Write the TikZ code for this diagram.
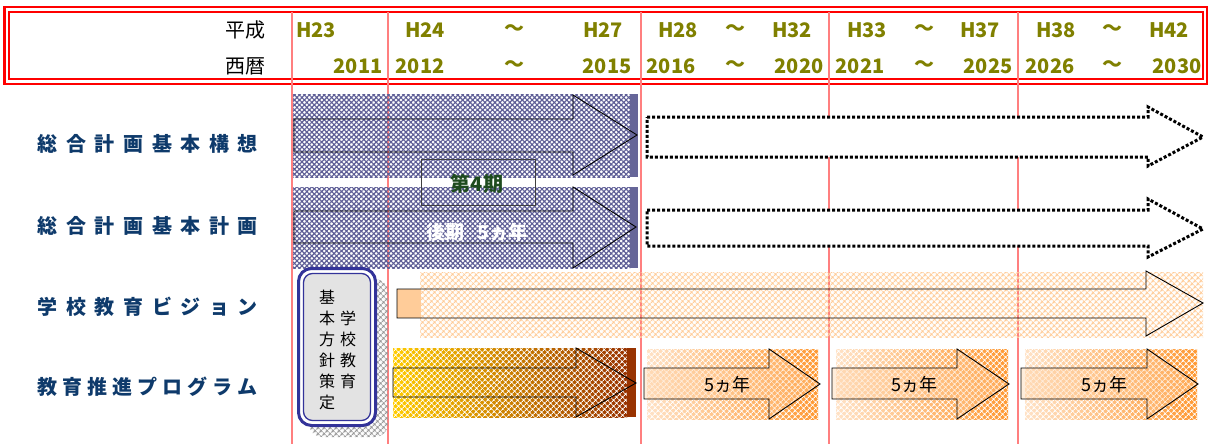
\documentclass[tikz,border=0pt]{standalone}
\usepackage{fontspec}
\setmainfont{Noto Sans CJK JP}
\usetikzlibrary{patterns.meta}
\definecolor{gridred}{HTML}{FF7F7F}
\definecolor{olivey}{HTML}{808000}
\definecolor{navylab}{HTML}{0E3A6B}
\definecolor{hatchblue}{HTML}{5E5E96}
\definecolor{barblue}{HTML}{666699}
\definecolor{peach}{HTML}{FFCC99}
\definecolor{brownbar}{HTML}{993300}
\definecolor{badgeblue}{HTML}{333399}
\definecolor{darkgreen}{HTML}{1E4B1E}
\definecolor{gyellow}{HTML}{FFCC00}
\definecolor{gorange}{HTML}{D07A10}
\definecolor{lightpeach}{HTML}{FFE2C6}
\definecolor{deeporange}{HTML}{FF9933}
\def\lsp{\kern 8.6pt}
\def\lsq{\kern 5.1pt}
\tikzset{
 yr/.style={text=olivey, font=\fontsize{20}{24}\selectfont\bfseries, inner sep=0pt},
 hdr/.style={font=\fontsize{20}{24}\selectfont, inner sep=0pt, anchor=east},
 rowlab/.style={text=navylab, font=\fontsize{20}{24}\selectfont\bfseries, inner sep=0pt, anchor=east},
 gridline/.style={draw=gridred, line width=2pt},
 bluefill/.style={pattern={Hatch[angle=45,distance=3.5pt,line width=1.15pt]}, pattern color=hatchblue},
 peachfill/.style={pattern={Hatch[angle=45,distance=4pt,line width=1.2pt]}, pattern color=peach},
 grayfill/.style={pattern={Hatch[angle=45,distance=4pt,line width=1.2pt]}, pattern color=gray!80},
 whitehatch/.style={pattern={Hatch[angle=45,distance=4pt,line width=1pt]}, pattern color=white},
 outline/.style={draw=black, line width=0.9pt, line join=miter},
 dottedarrow/.style={draw=black, fill=white, line width=3pt, dash pattern=on 3pt off 2pt},
 fiveyr/.style={font=\fontsize{18}{20}\selectfont, inner sep=0pt},
 badgetext/.style={font=\fontsize{16}{21}\selectfont, inner sep=0pt, align=center},
}
\begin{document}
\begin{tikzpicture}[x=1pt,y=-1pt]
\useasboundingbox (0,0) rectangle (1208,444);
% header frame
\draw[red, line width=2.5pt] (4.5,7) rectangle (1207,84);
\draw[red, line width=2pt] (8.5,12) rectangle (1203,79.5);
% grid lines
\foreach \gx in {292,388,641,829,1018} {\draw[gridline] (\gx,12) -- (\gx,444);}
% header text
\node[hdr] (heisei) at (266,30) {平成};
\node[hdr] (seireki) at (266,66) {西暦};
\node[yr] (h23) at (316,30) {H23};
\node[yr] (h24) at (425,30) {H24};
\node[yr] (t1) at (514,30) {～};
\node[yr] (h27) at (603,30) {H27};
\node[yr] (h28) at (678,30) {H28};
\node[yr] (t2) at (735,30) {～};
\node[yr] (h32) at (792,30) {H32};
\node[yr] (h33) at (867,30) {H33};
\node[yr] (t3) at (924,30) {～};
\node[yr] (h37) at (980,30) {H37};
\node[yr] (h38) at (1056,30) {H38};
\node[yr] (t4) at (1112,30) {～};
\node[yr] (h42) at (1169,30) {H42};
\node[yr] (y2011) at (358,66) {2011};
\node[yr] (y2012) at (420,66) {2012};
\node[yr] (t5) at (514,66) {～};
\node[yr] (y2015) at (607,66) {2015};
\node[yr] (y2016) at (671,66) {2016};
\node[yr] (t6) at (735,66) {～};
\node[yr] (y2020) at (799,66) {2020};
\node[yr] (y2021) at (860,66) {2021};
\node[yr] (t7) at (924,66) {～};
\node[yr] (y2025) at (988,66) {2025};
\node[yr] (y2026) at (1050,66) {2026};
\node[yr] (t8) at (1112,66) {～};
\node[yr] (y2030) at (1177,66) {2030};
% row labels
\node[rowlab] (r1) at (258,144) {総\lsp 合\lsp 計\lsp 画\lsp 基\lsp 本\lsp 構\lsp 想};
\node[rowlab] (r2) at (258,226) {総\lsp 合\lsp 計\lsp 画\lsp 基\lsp 本\lsp 計\lsp 画};
\node[rowlab] (r3) at (258,307) {学\lsp 校\lsp 教\lsp 育\lsp ビ\lsp ジ\lsp ョ\lsp ン};
\node[rowlab] (r4) at (258,387) {教\lsq 育\lsq 推\lsq 進\lsq プ\lsq ロ\lsq グ\lsq ラ\lsq ム};
% row 1 blue
\fill[bluefill] (293,95) rectangle (630,177);
\fill[barblue] (630,94) rectangle (638,177);
\draw[outline] (294,119) -- (573,119) -- (573,95) -- (637,135) -- (573,175) -- (573,152) -- (294,152) -- cycle;
% row 2 blue
\fill[bluefill] (293,187) rectangle (630,268);
\fill[barblue] (630,187) rectangle (638,268);
\draw[outline] (294,211) -- (573,211) -- (573,187) -- (636,227) -- (573,268) -- (573,243) -- (294,243) -- cycle;
\draw[black!75, line width=0.6pt] (421,159) rectangle (535,205);
\node[text=darkgreen, font=\fontsize{20}{22}\selectfont\bfseries, inner sep=0pt] (dai4) at (477,184) {第4期};
\node[text=white, font=\fontsize{19}{22}\selectfont\bfseries, inner sep=0pt] (kouki) at (477,232) {後期\hspace{0.7em}5ヵ年};
% dotted arrows
\draw[dottedarrow] (647,117) -- (1148,117) -- (1148,107) -- (1203,137) -- (1148,166) -- (1148,157) -- (647,157) -- cycle;
\draw[dottedarrow] (647,210) -- (1148,210) -- (1148,199) -- (1203,229) -- (1148,257) -- (1148,246) -- (647,246) -- cycle;
% row 3
\fill[peachfill] (420,272) rectangle (1203,337);
\fill[peach] (397,289) rectangle (421,318);
\draw[outline] (397,289) -- (1146,289) -- (1146,271) -- (1203,303) -- (1146,336) -- (1146,318) -- (397,318) -- cycle;
% badge
\fill[grayfill, rounded corners=13pt] (309,279) rectangle (388,437);
\draw[badgeblue, line width=3pt, fill=white, rounded corners=13pt] (298.5,268.5) rectangle (375.5,425.5);
\draw[badgeblue, line width=1.3pt, fill=gray!22, rounded corners=9pt] (303.5,273.5) rectangle (370.5,420.5);
\node[badgetext] (bcol1) at (348,350) {学\\校\\教\\育};
\node[badgetext] (bcol2) at (327,350) {基\\本\\方\\針\\策\\定};
% row 4 gradient arrow
\shade[left color=gyellow, middle color=gorange, right color=brownbar] (393,348) rectangle (627,417);
\fill[whitehatch] (393,348) rectangle (627,417);
\fill[brownbar] (627,348) rectangle (636,417);
\draw[outline] (393,368) -- (576,368) -- (576,348) -- (636,383) -- (576,417) -- (576,397) -- (393,397) -- cycle;
% row 4 orange arrows
\foreach \xa/\xb/\xt/\ra/\rb/\lx/\nm in {644/769/820/647/818/727/fa,832/957/1009/836/1008/914/fb,1021/1147/1198/1025/1197/1104/fc} {
  \shade[left color=lightpeach, right color=deeporange] (\ra,349) rectangle (\rb,419);
  \fill[whitehatch] (\ra,349) rectangle (\rb,419);
  \draw[outline, fill=peach, fill opacity=0.35] (\xa,368) -- (\xb,368) -- (\xb,349) -- (\xt,384) -- (\xb,419) -- (\xb,399) -- (\xa,399) -- cycle;
  \node[fiveyr] (\nm) at (\lx,385) {5ヵ年};
}
\end{tikzpicture}
\end{document}
